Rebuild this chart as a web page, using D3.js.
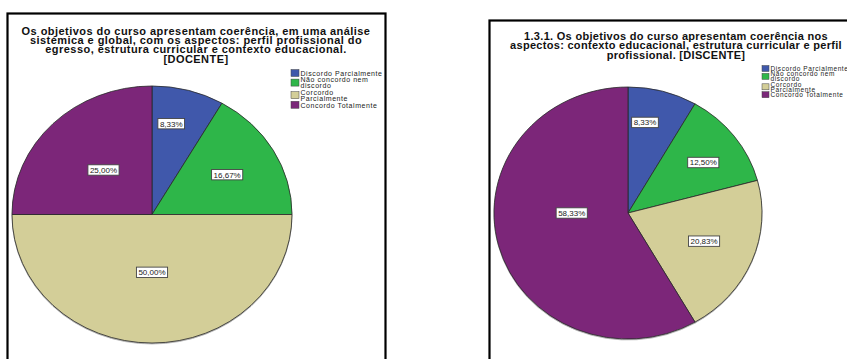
<!DOCTYPE html>
<html>
<head>
<meta charset="utf-8">
<script src="https://cdn.jsdelivr.net/npm/d3@7"></script>
<style>
  html, body { margin: 0; padding: 0; background: #fff; }
  svg { display: block; }
  text { font-family: "Liberation Sans", Arial, Helvetica, sans-serif; }
</style>
</head>
<body>
<svg id="chart" width="847" height="359"></svg>
<script>
// Response categories shared by both pies
const categories = ["Discordo Parcialmente", "Não concordo nem discordo", "Corcordo Parcialmente", "Concordo Totalmente"];
const legendLines = [["Discordo Parcialmente"], ["Não concordo nem", "discordo"], ["Corcordo", "Parcialmente"], ["Concordo Totalmente"]];
const colors = ["#3f58ab", "#2fb64a", "#d3ce98", "#7b2879"];

// Teachers' answers (%)
const docenteValues = [8.33, 16.67, 50.00, 25.00];
const docenteTitle = [
  "Os objetivos do curso apresentam coerência, em uma análise",
  "sistémica e global, com os aspectos: perfil profissional do",
  "egresso, estrutura curricular e contexto educacional.",
  "[DOCENTE]"
];

// Students' answers (%)
const discenteValues = [8.33, 12.50, 20.83, 58.33];
const discenteTitle = [
  "1.3.1. Os objetivos do curso apresentam coerência nos",
  "aspectos: contexto educacional, estrutura curricular e perfil",
  "profissional.  [DISCENTE]"
];

const fmt = v => d3.format(".2f")(v).replace(".", ",") + "%";
const svg = d3.select("#chart");

// soft shadow under the pie rim
const defs = svg.append("defs");
defs.append("filter").attr("id", "rim").attr("x", "-10%").attr("y", "-10%").attr("width", "120%").attr("height", "120%")
  .append("feDropShadow").attr("dx", 0).attr("dy", 1).attr("stdDeviation", 0.7)
  .attr("flood-color", "#000").attr("flood-opacity", 0.35);

function drawPanel(cfg) {
  const g = svg.append("g");

  // frame
  g.append("rect")
    .attr("x", cfg.frame[0]).attr("y", cfg.frame[1])
    .attr("width", cfg.frame[2]).attr("height", cfg.frame[3])
    .attr("fill", "#fff").attr("stroke", "#000").attr("stroke-width", 2.2);

  // title
  cfg.title.forEach((line, i) => {
    g.append("text")
      .attr("x", cfg.titleX).attr("y", cfg.titleY + i * cfg.titleStep)
      .attr("text-anchor", "middle")
      .attr("font-size", cfg.titleSize).attr("font-weight", "bold")
      .attr("letter-spacing", cfg.titleSpacing).attr("fill", "#111")
      .text(line);
  });

  // pie (drawn as a circle, stretched into the ellipse of the panel)
  const pie = d3.pie().sort(null).value(d => d);
  const arcs = pie(cfg.values);
  const arc = d3.arc().innerRadius(0).outerRadius(cfg.rx);
  const pg = g.append("g")
    .attr("filter", "url(#rim)")
    .attr("transform", `translate(${cfg.cx},${cfg.cy}) scale(1,${cfg.ry / cfg.rx})`);
  pg.selectAll("path").data(arcs).join("path")
    .attr("d", arc)
    .attr("fill", (d, i) => colors[i])
    .attr("stroke", "#2a2a2a").attr("stroke-width", 0.8)
    .attr("vector-effect", "non-scaling-stroke");

  // value labels in boxes
  const lg = g.append("g").attr("font-size", 8).attr("fill", "#222");
  arcs.forEach((d, i) => {
    const a = (d.startAngle + d.endAngle) / 2 + cfg.labelTurn[i] * Math.PI / 180;
    const f = cfg.labelRadius[i];
    const x = cfg.cx + Math.sin(a) * cfg.rx * f;
    const y = cfg.cy - Math.cos(a) * cfg.ry * f;
    const box = lg.append("rect");
    const txt = lg.append("text").attr("x", x).attr("y", y + 2.9)
      .attr("text-anchor", "middle").text(fmt(d.data));
    const w = txt.node().getComputedTextLength() + 4;
    box.attr("x", x - w / 2).attr("y", y - 5.2).attr("width", w).attr("height", 10.4)
      .attr("fill", "#fff").attr("stroke", "#444").attr("stroke-width", 0.9);
  });

  // legend
  const leg = g.append("g").attr("font-size", cfg.legendSize).attr("fill", "#222")
    .attr("letter-spacing", cfg.legendSpacing);
  let y = cfg.legendY;
  legendLines.forEach((lines, i) => {
    const h = lines.length * cfg.legendStep;
    leg.append("rect")
      .attr("x", cfg.legendX).attr("y", y + h / 2 - cfg.swatch / 2 - 1)
      .attr("width", cfg.swatch + 1).attr("height", cfg.swatch)
      .attr("fill", colors[i]).attr("stroke", "#444").attr("stroke-width", 0.5);
    lines.forEach((ln, j) => {
      leg.append("text")
        .attr("x", cfg.legendX + cfg.swatch + 2.5)
        .attr("y", y + (j + 1) * cfg.legendStep - 1.2)
        .text(ln);
    });
    y += h + cfg.legendGap;
  });
}

drawPanel({
  frame: [7.5, 13.5, 378, 360],
  title: docenteTitle, titleX: 196, titleY: 34.5, titleStep: 9.4, titleSize: 11, titleSpacing: 0.45,
  values: docenteValues,
  cx: 152, cy: 214.5, rx: 140, ry: 128.5,
  labelRadius: [0.72, 0.62, 0.45, 0.49],
  labelTurn: [-4, 0, 0, 0],
  legendX: 291, legendY: 71, legendStep: 6, legendGap: 0.6, legendSize: 7, swatch: 7, legendSpacing: 0.55
});

drawPanel({
  frame: [489.5, 20.5, 380, 360],
  title: discenteTitle, titleX: 676, titleY: 39.5, titleStep: 9.7, titleSize: 11, titleSpacing: 0.3,
  values: discenteValues,
  cx: 628, cy: 213, rx: 134, ry: 126,
  labelRadius: [0.73, 0.69, 0.61, 0.42],
  labelTurn: [-5, 2, -1, 15],
  legendX: 762, legendY: 67, legendStep: 5, legendGap: 0.4, legendSize: 6.5, swatch: 6, legendSpacing: 0.6
});
</script>
</body>
</html>
